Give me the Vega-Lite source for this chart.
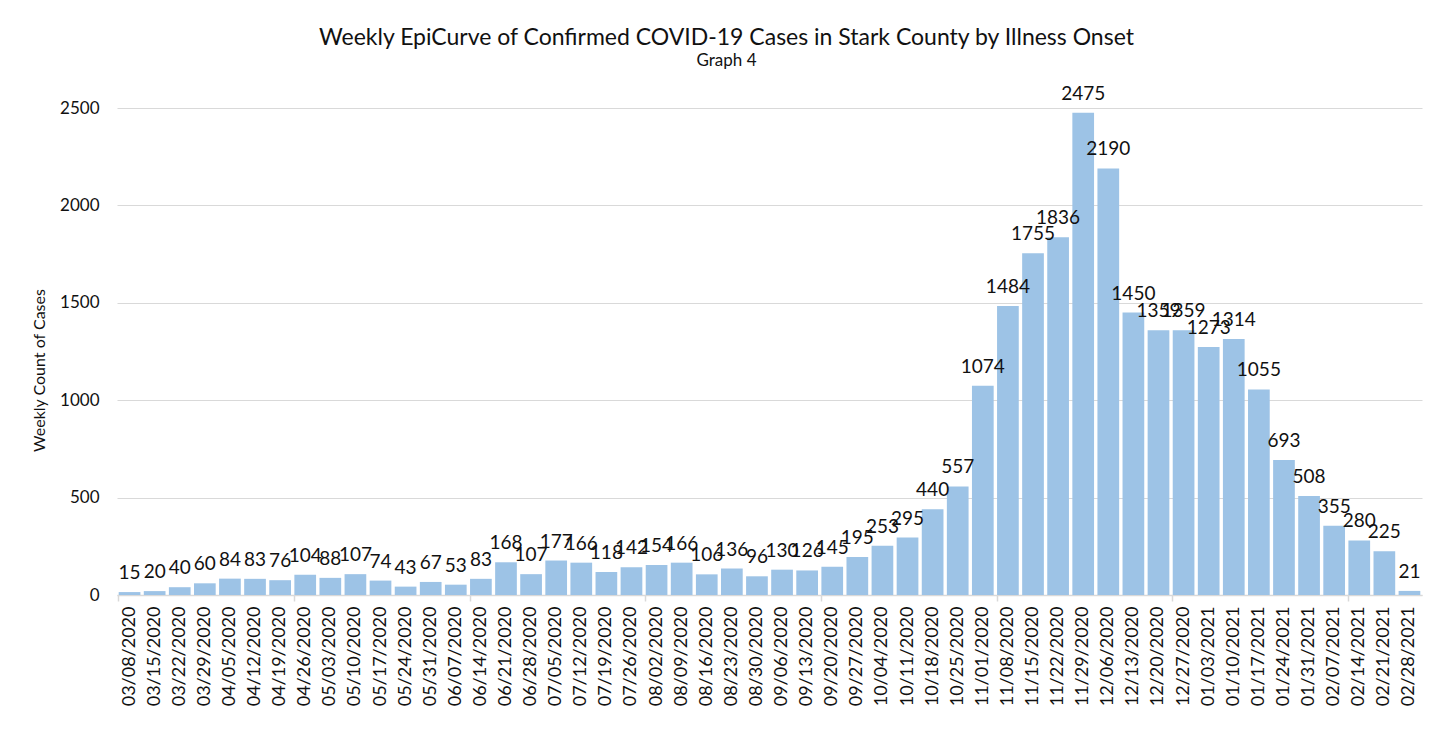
{
  "$schema": "https://vega.github.io/schema/vega-lite/v6.json",
  "autosize": {"type": "none"},
  "padding": {"left": 117, "top": 108, "right": 19, "bottom": 139},
  "width": 1305,
  "height": 487,
  "background": "white",
  "title": {
    "text": "Weekly EpiCurve of Confirmed COVID-19 Cases in Stark County by Illness Onset",
    "subtitle": "Graph 4",
    "anchor": "middle",
    "dx": -43,
    "font": "Lato",
    "fontSize": 23,
    "fontWeight": "normal",
    "color": "#111111",
    "subtitleFont": "Lato",
    "subtitleFontSize": 17,
    "subtitleColor": "#111111",
    "subtitlePadding": 3,
    "offset": 16
  },
  "data": {
    "values": [
      {"week": "03/08/2020", "cases": 15},
      {"week": "03/15/2020", "cases": 20},
      {"week": "03/22/2020", "cases": 40},
      {"week": "03/29/2020", "cases": 60},
      {"week": "04/05/2020", "cases": 84},
      {"week": "04/12/2020", "cases": 83},
      {"week": "04/19/2020", "cases": 76},
      {"week": "04/26/2020", "cases": 104},
      {"week": "05/03/2020", "cases": 88},
      {"week": "05/10/2020", "cases": 107},
      {"week": "05/17/2020", "cases": 74},
      {"week": "05/24/2020", "cases": 43},
      {"week": "05/31/2020", "cases": 67},
      {"week": "06/07/2020", "cases": 53},
      {"week": "06/14/2020", "cases": 83},
      {"week": "06/21/2020", "cases": 168},
      {"week": "06/28/2020", "cases": 107},
      {"week": "07/05/2020", "cases": 177},
      {"week": "07/12/2020", "cases": 166},
      {"week": "07/19/2020", "cases": 118},
      {"week": "07/26/2020", "cases": 142},
      {"week": "08/02/2020", "cases": 154},
      {"week": "08/09/2020", "cases": 166},
      {"week": "08/16/2020", "cases": 106},
      {"week": "08/23/2020", "cases": 136},
      {"week": "08/30/2020", "cases": 96},
      {"week": "09/06/2020", "cases": 130},
      {"week": "09/13/2020", "cases": 126},
      {"week": "09/20/2020", "cases": 145},
      {"week": "09/27/2020", "cases": 195},
      {"week": "10/04/2020", "cases": 253},
      {"week": "10/11/2020", "cases": 295},
      {"week": "10/18/2020", "cases": 440},
      {"week": "10/25/2020", "cases": 557},
      {"week": "11/01/2020", "cases": 1074},
      {"week": "11/08/2020", "cases": 1484},
      {"week": "11/15/2020", "cases": 1755},
      {"week": "11/22/2020", "cases": 1836},
      {"week": "11/29/2020", "cases": 2475},
      {"week": "12/06/2020", "cases": 2190},
      {"week": "12/13/2020", "cases": 1450},
      {"week": "12/20/2020", "cases": 1359},
      {"week": "12/27/2020", "cases": 1359},
      {"week": "01/03/2021", "cases": 1273},
      {"week": "01/10/2021", "cases": 1314},
      {"week": "01/17/2021", "cases": 1055},
      {"week": "01/24/2021", "cases": 693},
      {"week": "01/31/2021", "cases": 508},
      {"week": "02/07/2021", "cases": 355},
      {"week": "02/14/2021", "cases": 280},
      {"week": "02/21/2021", "cases": 225},
      {"week": "02/28/2021", "cases": 21}
    ]
  },
  "config": {
    "view": {"stroke": null},
    "font": "Lato"
  },
  "resolve": {"axis": {"x": "independent"}},
  "layer": [
    {
      "mark": {"type": "bar", "color": "#9DC3E6"},
      "encoding": {
        "x": {
          "field": "week",
          "type": "ordinal",
          "sort": null,
          "scale": {"paddingInner": 0.135, "paddingOuter": 0.0675},
          "axis": {
            "orient": "bottom",
            "title": null,
            "labelAngle": -90,
            "labelFont": "Lato",
            "labelFontSize": 18,
            "labelColor": "#111111",
            "labelPadding": 11,
            "ticks": false,
            "domain": true,
            "domainColor": "#D9D9D9",
            "domainWidth": 1.5
          }
        },
        "y": {
          "field": "cases",
          "type": "quantitative",
          "scale": {"domain": [0, 2500], "nice": false},
          "axis": {
            "title": "Weekly Count of Cases",
            "titleFont": "Lato",
            "titleFontSize": 16,
            "titleFontWeight": "normal",
            "titleColor": "#111111",
            "titlePadding": 12,
            "titleY": 262,
            "values": [0, 500, 1000, 1500, 2000, 2500],
            "format": "d",
            "labelFont": "Lato",
            "labelFontSize": 17,
            "labelColor": "#111111",
            "labelPadding": 18,
            "ticks": false,
            "domain": false,
            "grid": true,
            "gridColor": "#D9D9D9",
            "gridWidth": 1
          }
        }
      }
    },
    {
      "mark": {"type": "text", "font": "Lato", "fontSize": 19, "color": "#111111", "baseline": "alphabetic", "dy": -13},
      "encoding": {
        "x": {
          "field": "week",
          "type": "ordinal",
          "sort": null,
          "axis": {
            "orient": "bottom",
            "title": null,
            "values": ["03/08/2020", "04/26/2020", "06/14/2020", "08/02/2020", "09/20/2020", "11/08/2020", "12/27/2020", "02/14/2021"],
            "bandPosition": 0,
            "labels": false,
            "domain": false,
            "ticks": true,
            "tickSize": 6,
            "tickColor": "#D9D9D9",
            "tickWidth": 1.5,
            "grid": false
          }
        },
        "y": {"field": "cases", "type": "quantitative"},
        "text": {"field": "cases", "type": "quantitative", "format": "d"}
      }
    }
  ]
}
